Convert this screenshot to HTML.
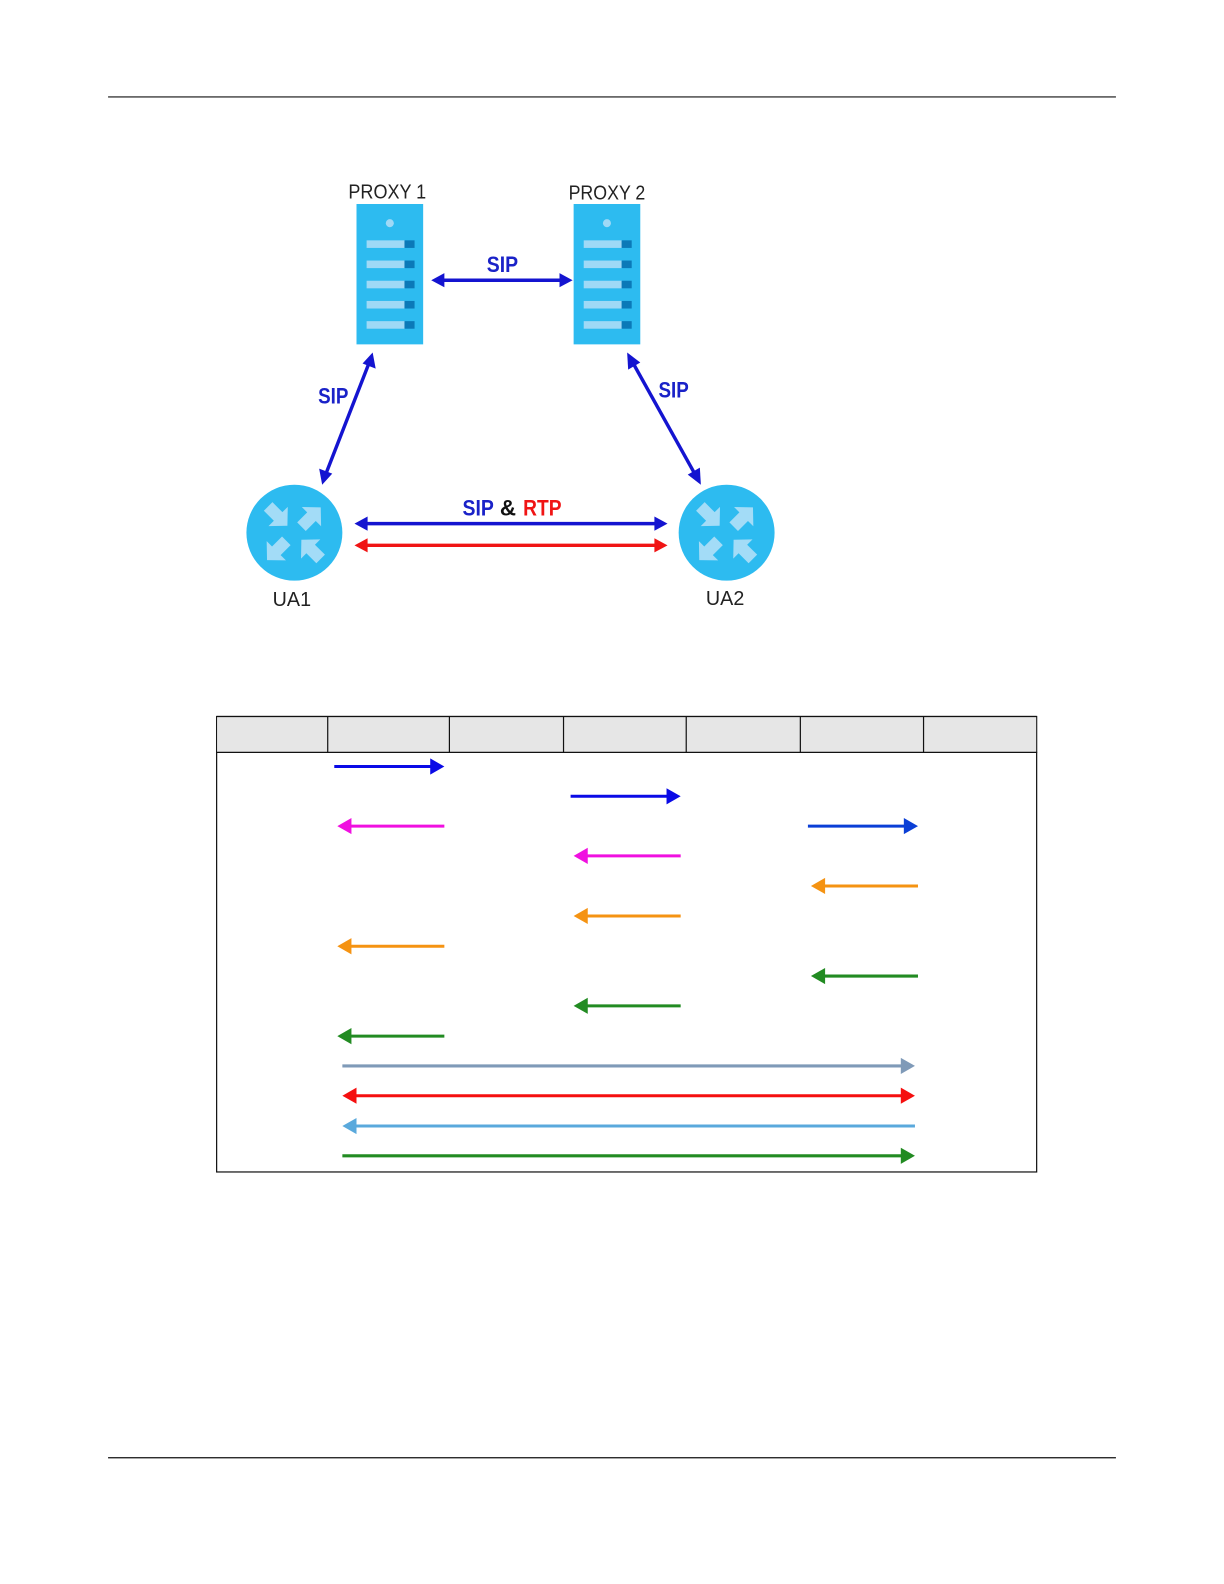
<!DOCTYPE html>
<html><head><meta charset="utf-8"><style>
html,body{margin:0;padding:0;background:#fff;width:1224px;height:1584px;overflow:hidden}
svg{display:block}
text{font-family:"Liberation Sans",sans-serif}
</style></head><body>
<svg width="1224" height="1584" viewBox="0 0 1212 1568.5" xmlns="http://www.w3.org/2000/svg">
<defs>
<g id="srv">
<rect x="0" y="0" width="66" height="139" fill="#2dbbf0"/>
<circle cx="33" cy="19" r="4" fill="#9fd9f6"/>
<rect x="10" y="36" width="38" height="7.5" fill="#9fd9f6"/><rect x="47.500" y="36" width="10" height="7.5" fill="#0b79b8"/>
<rect x="10" y="56" width="38" height="7.5" fill="#9fd9f6"/><rect x="47.500" y="56" width="10" height="7.5" fill="#0b79b8"/>
<rect x="10" y="76" width="38" height="7.5" fill="#9fd9f6"/><rect x="47.500" y="76" width="10" height="7.5" fill="#0b79b8"/>
<rect x="10" y="96" width="38" height="7.5" fill="#9fd9f6"/><rect x="47.500" y="96" width="10" height="7.5" fill="#0b79b8"/>
<rect x="10" y="116" width="38" height="7.5" fill="#9fd9f6"/><rect x="47.500" y="116" width="10" height="7.5" fill="#0b79b8"/>
</g>
<polygon id="ar" points="0,-6 14,-6 14,-13.500 27,0 14,13.500 14,6 0,6" fill="#a3dcf7"/>
<g id="ua">
<circle cx="0" cy="0" r="47.500" fill="#2dbbf0"/>
<use href="#ar" transform="translate(-26,-26) rotate(45)"/>
<use href="#ar" transform="translate(7,-6) rotate(-45)"/>
<use href="#ar" transform="translate(-8,8) rotate(135)"/>
<use href="#ar" transform="translate(26,26) rotate(225)"/>
</g>
</defs>

<line x1="107" y1="96" x2="1105" y2="96" stroke="#111" stroke-width="1.200"/>
<line x1="107" y1="1443.500" x2="1105" y2="1443.500" stroke="#111" stroke-width="1.200"/>

<use href="#srv" x="353" y="202"/>
<use href="#srv" x="568" y="202"/>
<use href="#ua" x="291.500" y="527.500"/>
<use href="#ua" x="719.500" y="527.500"/>

<text x="345" y="196.500" font-size="20" fill="#222" textLength="77" lengthAdjust="spacingAndGlyphs">PROXY 1</text>
<text x="563" y="197.500" font-size="20" fill="#222" textLength="76" lengthAdjust="spacingAndGlyphs">PROXY 2</text>
<text x="270" y="600" font-size="20" fill="#222" textLength="38" lengthAdjust="spacingAndGlyphs">UA1</text>
<text x="699" y="599" font-size="20" fill="#222" textLength="38" lengthAdjust="spacingAndGlyphs">UA2</text>

<g font-size="22" font-weight="bold" fill="#1a22c8">
<text x="482" y="269.500" textLength="31" lengthAdjust="spacingAndGlyphs">SIP</text>
<text x="315" y="399.500" textLength="30" lengthAdjust="spacingAndGlyphs">SIP</text>
<text x="652" y="393.500" textLength="30" lengthAdjust="spacingAndGlyphs">SIP</text>
<text x="458" y="510.500" textLength="31" lengthAdjust="spacingAndGlyphs">SIP</text>
<text x="495" y="510.500" fill="#111" textLength="16" lengthAdjust="spacingAndGlyphs">&amp;</text>
<text x="518" y="510.500" fill="#f01414" textLength="38" lengthAdjust="spacingAndGlyphs">RTP</text>
</g>

<!-- diagram arrows -->
<g stroke="#1414d0" stroke-width="3.400" fill="#1414d0">
<line x1="436" y1="277.500" x2="558" y2="277.500"/>
<polygon stroke="none" points="427,277.500 440,270.500 440,284.500"/>
<polygon stroke="none" points="567,277.500 554,270.500 554,284.500"/>
<line x1="366" y1="358" x2="322" y2="471"/>
<polygon stroke="none" points="369,349 372,365 359,360"/>
<polygon stroke="none" points="319,480 316,464 329,469"/>
<line x1="626" y1="358" x2="689" y2="471"/>
<polygon stroke="none" points="621,349 634,359 622,366"/>
<polygon stroke="none" points="694,480 681,470 693,463"/>
<line x1="360" y1="518.500" x2="652" y2="518.500"/>
<polygon stroke="none" points="351,518.500 364,511.500 364,525.500"/>
<polygon stroke="none" points="661,518.500 648,511.500 648,525.500"/>
</g>
<g stroke="#f01414" stroke-width="3.400" fill="#f01414">
<line x1="360" y1="540" x2="652" y2="540"/>
<polygon stroke="none" points="351,540 364,533 364,547"/>
<polygon stroke="none" points="661,540 648,533 648,547"/>
</g>

<!-- table -->
<rect x="214.500" y="709.500" width="812" height="451" fill="#fff" stroke="#111" stroke-width="1.200"/>
<rect x="215" y="710" width="811" height="35" fill="#e6e6e6"/>
<line x1="214" y1="745" x2="1027" y2="745" stroke="#111" stroke-width="1.200"/>
<g stroke="#111" stroke-width="1.200">
<line x1="324.500" y1="709" x2="324.500" y2="745"/>
<line x1="445" y1="709" x2="445" y2="745"/>
<line x1="558" y1="709" x2="558" y2="745"/>
<line x1="679.500" y1="709" x2="679.500" y2="745"/>
<line x1="792.500" y1="709" x2="792.500" y2="745"/>
<line x1="914.500" y1="709" x2="914.500" y2="745"/>
<line x1="214.500" y1="709.500" x2="1026.500" y2="709.500"/>
</g>

<!-- table arrows -->
<g stroke-width="3">
<g stroke="#0a0ae6" fill="#0a0ae6">
<line x1="331" y1="759" x2="428" y2="759"/><polygon stroke="none" points="440,759 426,751 426,767"/>
<line x1="565" y1="788.500" x2="662" y2="788.500"/><polygon stroke="none" points="674,788.500 660,780.500 660,796.500"/>
</g>
<g stroke="#0b3fd6" fill="#0b3fd6">
<line x1="800" y1="818" x2="897" y2="818"/><polygon stroke="none" points="909,818 895,810 895,826"/>
</g>
<g stroke="#f010e0" fill="#f010e0">
<line x1="440" y1="818" x2="345" y2="818"/><polygon stroke="none" points="334,818 348,810 348,826"/>
<line x1="674" y1="847.500" x2="579" y2="847.500"/><polygon stroke="none" points="568,847.500 582,839.500 582,855.500"/>
</g>
<g stroke="#f59312" fill="#f59312">
<line x1="909" y1="877.300" x2="814" y2="877.300"/><polygon stroke="none" points="803,877.300 817,869.300 817,885.300"/>
<line x1="674" y1="907" x2="579" y2="907"/><polygon stroke="none" points="568,907 582,899 582,915"/>
<line x1="440" y1="937" x2="345" y2="937"/><polygon stroke="none" points="334,937 348,929 348,945"/>
</g>
<g stroke="#228b22" fill="#228b22">
<line x1="909" y1="966.500" x2="814" y2="966.500"/><polygon stroke="none" points="803,966.500 817,958.500 817,974.500"/>
<line x1="674" y1="996" x2="579" y2="996"/><polygon stroke="none" points="568,996 582,988 582,1004"/>
<line x1="440" y1="1026" x2="345" y2="1026"/><polygon stroke="none" points="334,1026 348,1018 348,1034"/>
<line x1="339" y1="1144.500" x2="895" y2="1144.500"/><polygon stroke="none" points="906,1144.500 892,1136.500 892,1152.500"/>
</g>
<g stroke="#7f9ab8" fill="#7f9ab8">
<line x1="339" y1="1055.500" x2="895" y2="1055.500"/><polygon stroke="none" points="906,1055.500 892,1047.500 892,1063.500"/>
</g>
<g stroke="#f50f0f" fill="#f50f0f">
<line x1="350" y1="1085" x2="895" y2="1085"/><polygon stroke="none" points="339,1085 353,1077 353,1093"/><polygon stroke="none" points="906,1085 892,1077 892,1093"/>
</g>
<g stroke="#5aa9dc" fill="#5aa9dc">
<line x1="906" y1="1115" x2="350" y2="1115"/><polygon stroke="none" points="339,1115 353,1107 353,1123"/>
</g>
</g>
</svg>
</body></html>
